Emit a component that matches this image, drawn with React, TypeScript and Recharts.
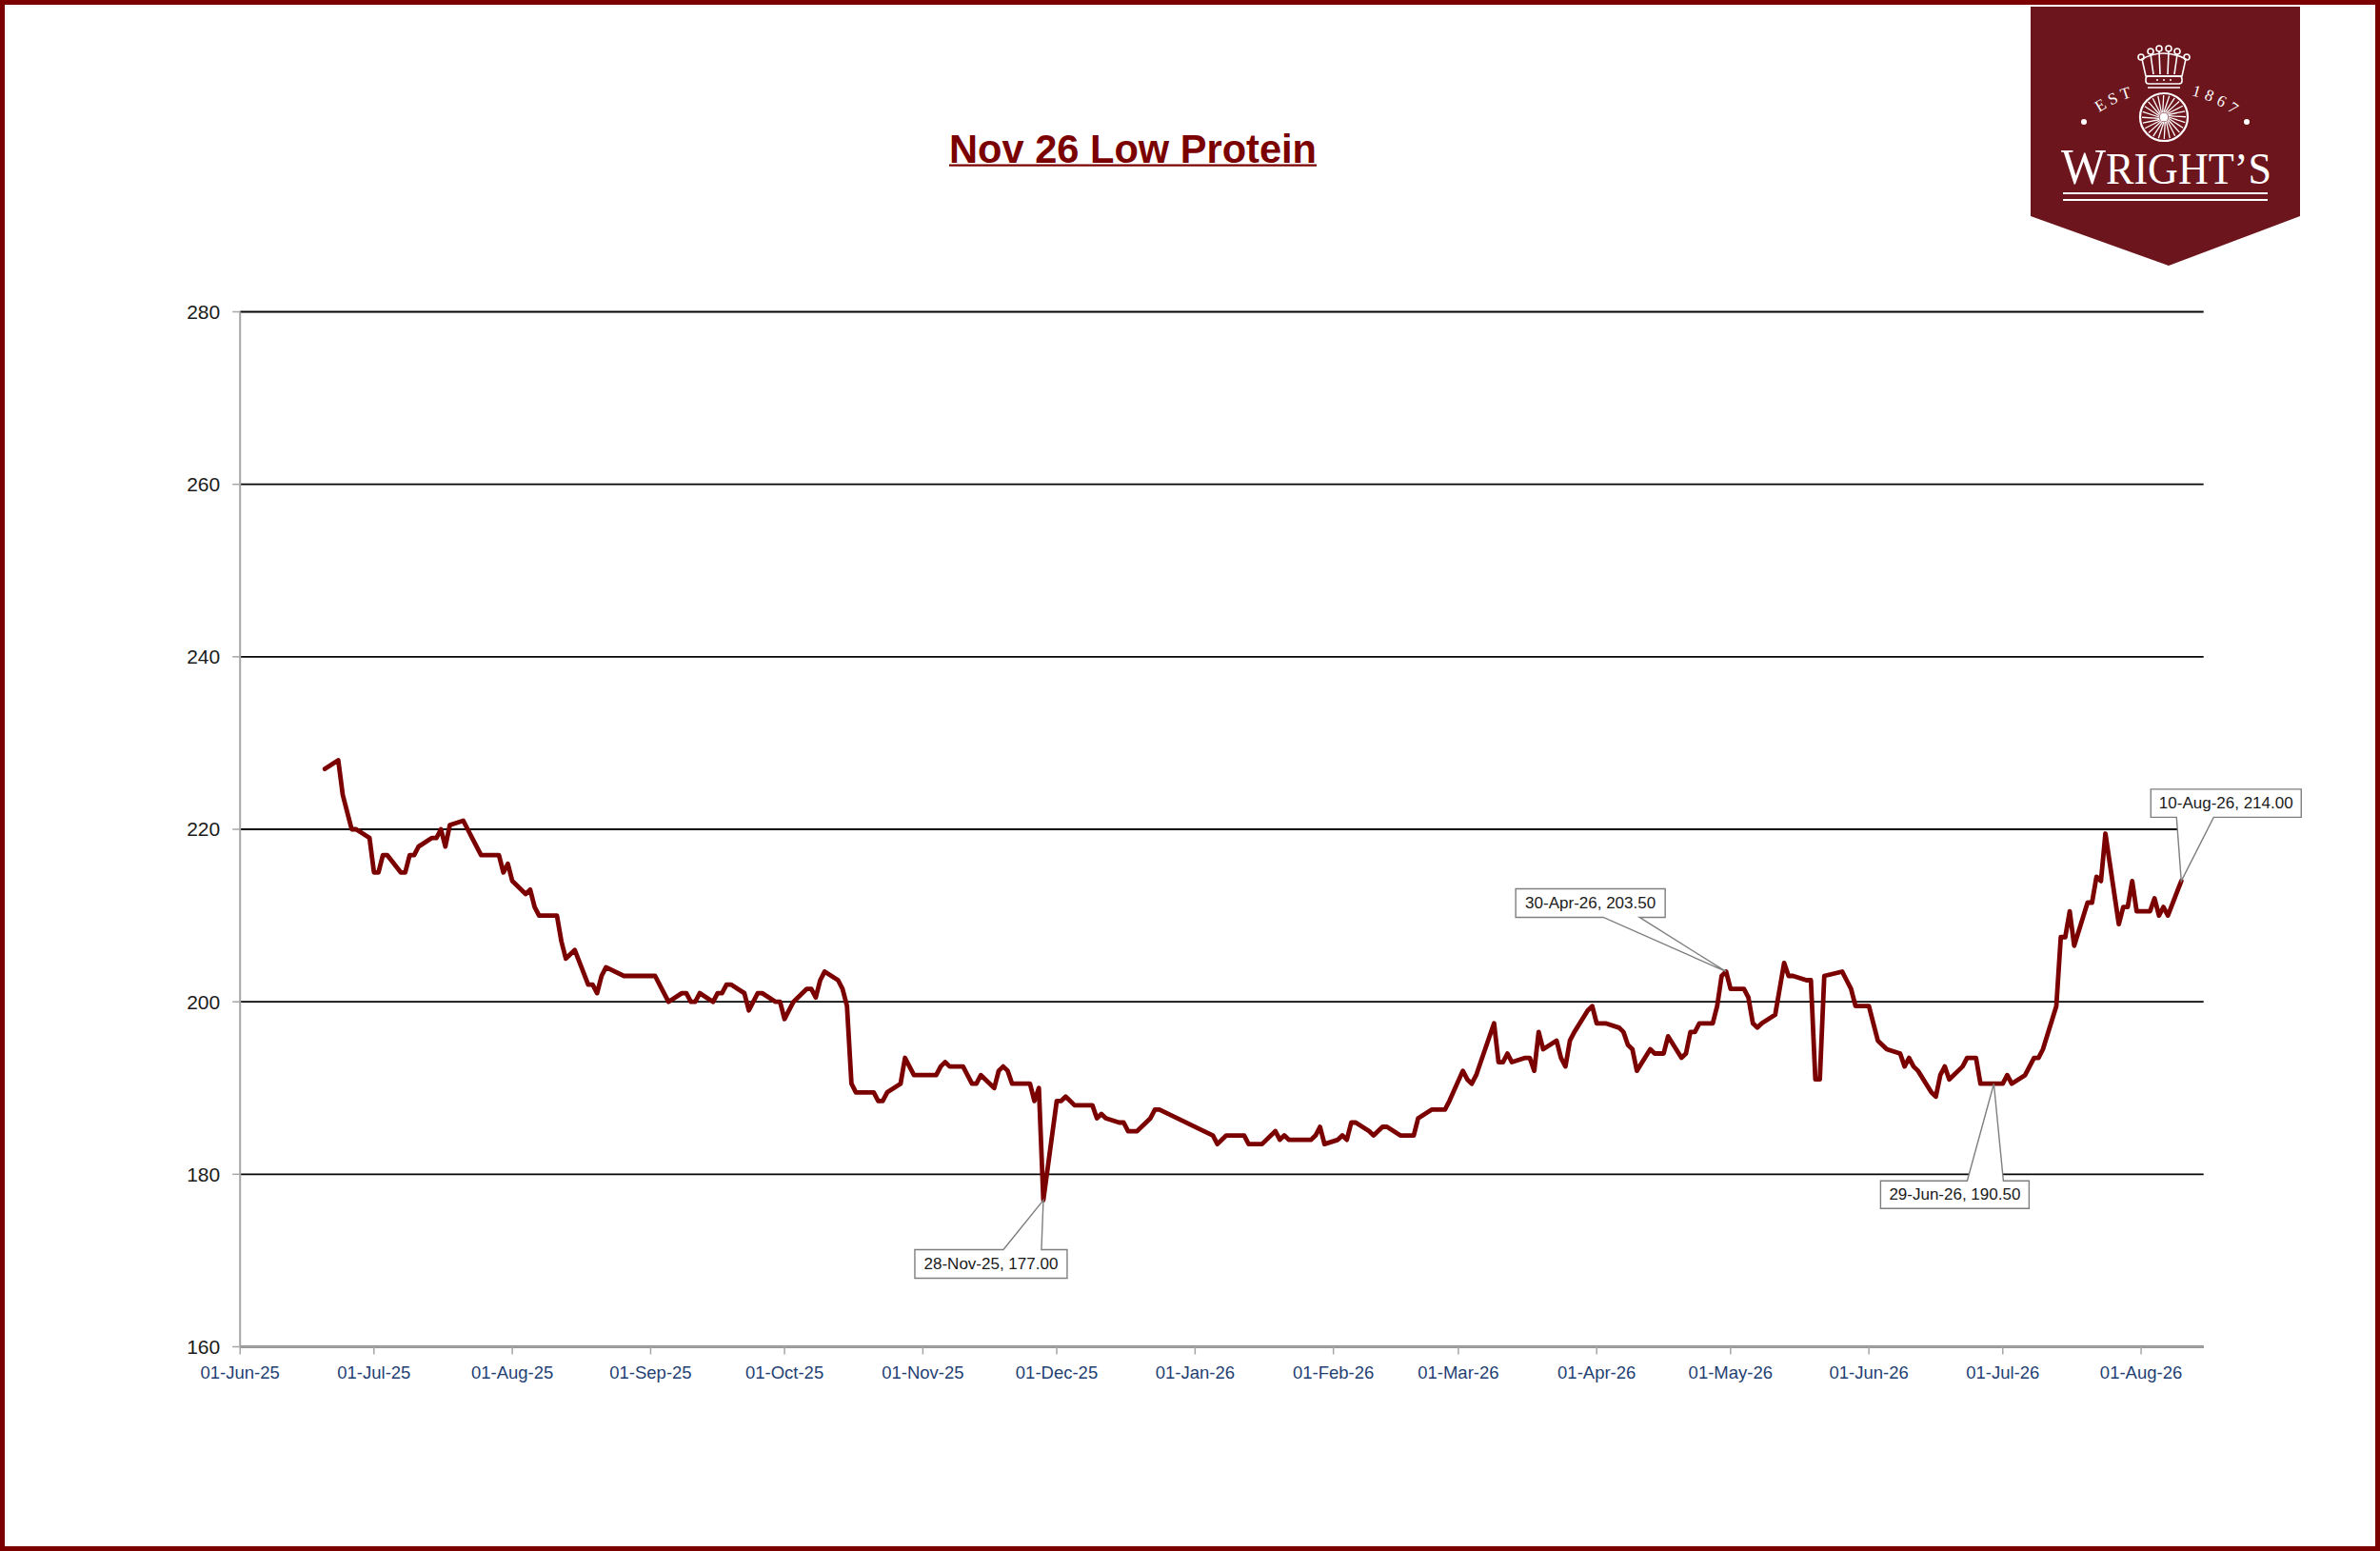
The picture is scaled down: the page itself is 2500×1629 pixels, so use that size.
import React from 'react';
import { LineChart, Line, XAxis, YAxis, CartesianGrid, ReferenceDot } from 'recharts';

const chartTitle = 'Nov 26 Low Protein';

const dates: string[] = [
  '2025-06-20', '2025-06-23', '2025-06-24', '2025-06-25', '2025-06-26', '2025-06-27', '2025-06-30',
  '2025-07-01', '2025-07-02', '2025-07-03', '2025-07-04', '2025-07-07', '2025-07-08', '2025-07-09', '2025-07-10', '2025-07-11',
  '2025-07-14', '2025-07-15', '2025-07-16', '2025-07-17', '2025-07-18', '2025-07-21', '2025-07-22', '2025-07-23', '2025-07-24',
  '2025-07-25', '2025-07-28', '2025-07-29', '2025-07-30', '2025-07-31',
  '2025-08-01', '2025-08-04', '2025-08-05', '2025-08-06', '2025-08-07', '2025-08-08', '2025-08-11', '2025-08-12', '2025-08-13',
  '2025-08-14', '2025-08-15', '2025-08-18', '2025-08-19', '2025-08-20', '2025-08-21', '2025-08-22', '2025-08-26', '2025-08-27',
  '2025-08-28', '2025-08-29',
  '2025-09-01', '2025-09-02', '2025-09-03', '2025-09-04', '2025-09-05', '2025-09-08', '2025-09-09', '2025-09-10', '2025-09-11',
  '2025-09-12', '2025-09-15', '2025-09-16', '2025-09-17', '2025-09-18', '2025-09-19', '2025-09-22', '2025-09-23', '2025-09-24',
  '2025-09-25', '2025-09-26', '2025-09-29', '2025-09-30',
  '2025-10-01', '2025-10-02', '2025-10-03', '2025-10-06', '2025-10-07', '2025-10-08', '2025-10-09', '2025-10-10', '2025-10-13',
  '2025-10-14', '2025-10-15', '2025-10-16', '2025-10-17', '2025-10-20', '2025-10-21', '2025-10-22', '2025-10-23', '2025-10-24',
  '2025-10-27', '2025-10-28', '2025-10-29', '2025-10-30', '2025-10-31',
  '2025-11-03', '2025-11-04', '2025-11-05', '2025-11-06', '2025-11-07', '2025-11-10', '2025-11-11', '2025-11-12', '2025-11-13',
  '2025-11-14', '2025-11-17', '2025-11-18', '2025-11-19', '2025-11-20', '2025-11-21', '2025-11-24', '2025-11-25', '2025-11-26',
  '2025-11-27', '2025-11-28',
  '2025-12-01', '2025-12-02', '2025-12-03', '2025-12-04', '2025-12-05', '2025-12-08', '2025-12-09', '2025-12-10', '2025-12-11',
  '2025-12-12', '2025-12-15', '2025-12-16', '2025-12-17', '2025-12-18', '2025-12-19', '2025-12-22', '2025-12-23', '2025-12-24',
  '2026-01-05', '2026-01-06', '2026-01-07', '2026-01-08', '2026-01-09', '2026-01-12', '2026-01-13', '2026-01-14', '2026-01-15',
  '2026-01-16', '2026-01-19', '2026-01-20', '2026-01-21', '2026-01-22', '2026-01-23', '2026-01-26', '2026-01-27', '2026-01-28',
  '2026-01-29', '2026-01-30',
  '2026-02-02', '2026-02-03', '2026-02-04', '2026-02-05', '2026-02-06', '2026-02-09', '2026-02-10', '2026-02-11', '2026-02-12',
  '2026-02-13', '2026-02-16', '2026-02-17', '2026-02-18', '2026-02-19', '2026-02-20', '2026-02-23', '2026-02-24', '2026-02-25',
  '2026-02-26', '2026-02-27',
  '2026-03-02', '2026-03-03', '2026-03-04', '2026-03-05', '2026-03-06', '2026-03-09', '2026-03-10', '2026-03-11', '2026-03-12',
  '2026-03-13', '2026-03-16', '2026-03-17', '2026-03-18', '2026-03-19', '2026-03-20', '2026-03-23', '2026-03-24', '2026-03-25',
  '2026-03-26', '2026-03-27', '2026-03-30', '2026-03-31',
  '2026-04-01', '2026-04-02', '2026-04-03', '2026-04-06', '2026-04-07', '2026-04-08', '2026-04-09', '2026-04-10', '2026-04-13',
  '2026-04-14', '2026-04-15', '2026-04-16', '2026-04-17', '2026-04-20', '2026-04-21', '2026-04-22', '2026-04-23', '2026-04-24',
  '2026-04-27', '2026-04-28', '2026-04-29', '2026-04-30',
  '2026-05-01', '2026-05-04', '2026-05-05', '2026-05-06', '2026-05-07', '2026-05-08', '2026-05-11', '2026-05-12', '2026-05-13',
  '2026-05-14', '2026-05-15', '2026-05-18', '2026-05-19', '2026-05-20', '2026-05-21', '2026-05-22', '2026-05-26', '2026-05-27',
  '2026-05-28', '2026-05-29',
  '2026-06-01', '2026-06-02', '2026-06-03', '2026-06-04', '2026-06-05', '2026-06-08', '2026-06-09', '2026-06-10', '2026-06-11',
  '2026-06-12', '2026-06-15', '2026-06-16', '2026-06-17', '2026-06-18', '2026-06-19', '2026-06-22', '2026-06-23', '2026-06-24',
  '2026-06-25', '2026-06-26', '2026-06-29', '2026-06-30',
  '2026-07-01', '2026-07-02', '2026-07-03', '2026-07-06', '2026-07-07', '2026-07-08', '2026-07-09', '2026-07-10', '2026-07-13',
  '2026-07-14', '2026-07-15', '2026-07-16', '2026-07-17', '2026-07-20', '2026-07-21', '2026-07-22', '2026-07-23', '2026-07-24',
  '2026-07-27', '2026-07-28', '2026-07-29', '2026-07-30', '2026-07-31',
  '2026-08-03', '2026-08-04', '2026-08-05', '2026-08-06', '2026-08-07', '2026-08-10',
];

const prices: number[] = [
  227, 228, 224, 222, 220, 220, 219,
  215, 215, 217, 217, 215, 215, 217, 217, 218,
  219, 219, 220, 218, 220.5, 221, 220, 219, 218,
  217, 217, 217, 215, 216,
  214, 212.5, 213, 211, 210, 210, 210, 207, 205,
  205.5, 206, 202, 202, 201, 203, 204, 203, 203,
  203, 203,
  203, 203, 202, 201, 200, 201, 201, 200, 200,
  201, 200, 201, 201, 202, 202, 201, 199, 200,
  201, 201, 200, 200,
  198, 199, 200, 201.5, 201.5, 200.5, 202.5, 203.5, 202.5,
  201.5, 199.5, 190.5, 189.5, 189.5, 189.5, 188.5, 188.5, 189.5,
  190.5, 193.5, 192.5, 191.5, 191.5,
  191.5, 191.5, 192.5, 193, 192.5, 192.5, 191.5, 190.5, 190.5,
  191.5, 190, 192, 192.5, 192, 190.5, 190.5, 190.5, 188.5,
  190, 177,
  188.5, 188.5, 189, 188.5, 188, 188, 188, 186.5, 187,
  186.5, 186, 186, 185, 185, 185, 186.5, 187.5, 187.5,
  184.5, 183.5, 184, 184.5, 184.5, 184.5, 183.5, 183.5, 183.5,
  183.5, 185, 184, 184.5, 184, 184, 184, 184, 184.5,
  185.5, 183.5,
  184, 184.5, 184, 186, 186, 185, 184.5, 185, 185.5,
  185.5, 184.5, 184.5, 184.5, 184.5, 186.5, 187.5, 187.5, 187.5,
  187.5, 188.5,
  192, 191, 190.5, 191.5, 193, 197.5, 193, 193, 194,
  193, 193.5, 193.5, 192, 196.5, 194.5, 195.5, 193.5, 192.5,
  195.5, 196.5, 199, 199.5,
  197.5, 197.5, 197.5, 197, 196.5, 195, 194.5, 192, 194.5,
  194, 194, 194, 196, 193.5, 194, 196.5, 196.5, 197.5,
  197.5, 199.5, 203, 203.5,
  201.5, 201.5, 200.5, 197.5, 197, 197.5, 198.5, 201.5, 204.5,
  203, 203, 202.5, 202.5, 191, 191, 203, 203.5, 202.5,
  201.5, 199.5,
  199.5, 197.5, 195.5, 195, 194.5, 194, 192.5, 193.5, 192.5,
  192, 189.5, 189, 191.5, 192.5, 191, 192.5, 193.5, 193.5,
  193.5, 190.5, 190.5, 190.5,
  190.5, 191.5, 190.5, 191.5, 192.5, 193.5, 193.5, 194.5, 199.5,
  207.5, 207.5, 210.5, 206.5, 211.5, 211.5, 214.5, 214, 219.5,
  209, 211, 211, 214, 210.5,
  210.5, 212, 210, 211, 210, 214,
];

const xTickDates: string[] = [
  '2025-06-01', '2025-07-01', '2025-08-01', '2025-09-01', '2025-10-01', '2025-11-01', '2025-12-01', '2026-01-01',
  '2026-02-01', '2026-03-01', '2026-04-01', '2026-05-01', '2026-06-01', '2026-07-01', '2026-08-01',
];
const xDomainDates: string[] = ['2025-06-01', '2026-08-15'];
const yTicks: number[] = [160, 180, 200, 220, 240, 260, 280];
const yDomain: number[] = [160, 280];

const calloutDates: string[] = ['2025-11-28', '2026-04-30', '2026-06-29', '2026-08-10'];

// callout box placement relative to the annotated point (style only)
const calloutLayout = [
  { bx: -135, by: 52, w: 160, h: 30, edge: 'top', w1: -42, w2: -2 },
  { bx: -221, by: -87, w: 157, h: 30, edge: 'bottom', w1: -129, w2: -91 },
  { bx: -119, by: 102, w: 156, h: 29, edge: 'top', w1: -28, w2: 10 },
  { bx: -32, by: -96.5, w: 158, h: 29.5, edge: 'bottom', w1: -5, w2: 34 },
];

const MONTHS = ['Jan', 'Feb', 'Mar', 'Apr', 'May', 'Jun', 'Jul', 'Aug', 'Sep', 'Oct', 'Nov', 'Dec'];
const toTs = (s: string) => {
  const [y, m, d] = s.split('-').map(Number);
  return Date.UTC(y, m - 1, d);
};
const fmtDate = (ts: number) => {
  const dt = new Date(ts);
  const dd = String(dt.getUTCDate()).padStart(2, '0');
  return `${dd}-${MONTHS[dt.getUTCMonth()]}-${String(dt.getUTCFullYear()).slice(2)}`;
};

const data = dates.map((d, i) => ({ t: toTs(d), v: prices[i] }));
const xTicks = xTickDates.map(toTs);
const xDomain = xDomainDates.map(toTs);

const RED = '#7b0000';
const FONT = '"Liberation Sans", Arial, sans-serif';

const makeCallout = (label: string, lay: any) => (props: any) => {
  const { cx, cy } = props;
  if (typeof cx !== 'number' || typeof cy !== 'number') return <g />;
  const L = cx + lay.bx;
  const T = cy + lay.by;
  const R = L + lay.w;
  const B = T + lay.h;
  const a = cx + lay.w1;
  const b = cx + lay.w2;
  let d: string;
  if (lay.edge === 'top') {
    d = `M${a},${T} L${cx},${cy} L${b},${T} L${R},${T} L${R},${B} L${L},${B} L${L},${T} Z`;
  } else {
    d = `M${L},${T} L${R},${T} L${R},${B} L${b},${B} L${cx},${cy} L${a},${B} L${L},${B} Z`;
  }
  return (
    <g>
      <path d={d} fill="#ffffff" stroke="#7f7f7f" strokeWidth={1.4} strokeLinejoin="miter" />
      <text
        x={L + lay.w / 2}
        y={T + lay.h / 2}
        textAnchor="middle"
        dominantBaseline="central"
        fontFamily={FONT}
        fontSize={17}
        fill="#1a1a1a"
      >
        {label}
      </text>
    </g>
  );
};

const spokes = Array.from({ length: 24 }, (_, i) => (i * Math.PI * 2) / 24);

const Logo = () => {
  const cx = 2273;
  const cy = 123;
  // arc for the EST / 1867 lettering
  const acx = 2274;
  const acy = 219.8;
  const ar = 122.8;
  const a0 = (140 * Math.PI) / 180;
  const sx = acx + ar * Math.cos(a0);
  const sy = acy - ar * Math.sin(a0);
  const ex = acx - ar * Math.cos(a0);
  return (
    <g>
      <polygon points="2133,7 2416,7 2416,227 2278,279 2133,227" fill="#6d151c" />
      {/* crown */}
      <g fill="none" stroke="#ffffff" strokeWidth={1.6}>
        <path d="M2250,62 Q2273,50 2296,62 L2292,80 L2254,80 Z" />
        <rect x={2254} y={80} width={38} height={8} rx={3} />
        <path d="M2256,92 L2290,92" />
        <circle cx={2249} cy={60} r={3} />
        <circle cx={2259} cy={54} r={3} />
        <circle cx={2268} cy={51} r={3} />
        <circle cx={2278} cy={51} r={3} />
        <circle cx={2287} cy={54} r={3} />
        <circle cx={2297} cy={60} r={3} />
        <path d="M2259,57 L2262,78 M2268,54 L2269,78 M2278,54 L2277,78 M2287,57 L2284,78" />
      </g>
      <circle cx={2266} cy={84} r={1} fill="#fff" />
      <circle cx={2273} cy={84} r={1} fill="#fff" />
      <circle cx={2280} cy={84} r={1} fill="#fff" />
      {/* wheel */}
      <circle cx={cx} cy={cy} r={25} fill="none" stroke="#ffffff" strokeWidth={2.2} />
      <g stroke="#ffffff" strokeWidth={1.3}>
        {spokes.map((ang, i) => (
          <line
            key={i}
            x1={cx + Math.cos(ang) * 5}
            y1={cy + Math.sin(ang) * 5}
            x2={cx + Math.cos(ang + 0.25) * 23}
            y2={cy + Math.sin(ang + 0.25) * 23}
          />
        ))}
      </g>
      <circle cx={cx} cy={cy} r={4.5} fill="#ffffff" />
      {/* est 1867 */}
      <defs>
        <path id="estArc" d={`M${sx},${sy} A${ar},${ar} 0 0,1 ${ex},${sy}`} />
      </defs>
      <text fontFamily='"Liberation Serif", serif' fontSize={17} fill="#ffffff" letterSpacing={4} textAnchor="middle">
        <textPath href="#estArc" startOffset="55">EST</textPath>
      </text>
      <text fontFamily='"Liberation Serif", serif' fontSize={17} fill="#ffffff" letterSpacing={5} textAnchor="middle">
        <textPath href="#estArc" startOffset="162">1867</textPath>
      </text>
      <circle cx={2189} cy={128} r={3} fill="#ffffff" />
      <circle cx={2360} cy={128} r={3} fill="#ffffff" />
      <text
        x={2165}
        y={193}
        fontFamily='"Liberation Serif", "DejaVu Serif", serif'
        fill="#ffffff"
        textLength={221}
        lengthAdjust="spacingAndGlyphs"
      >
        <tspan fontSize={53}>W</tspan>
        <tspan fontSize={47}>RIGHT’S</tspan>
      </text>
      <line x1={2167} y1={203} x2={2382} y2={203} stroke="#ffffff" strokeWidth={2} />
      <line x1={2167} y1={210} x2={2382} y2={210} stroke="#ffffff" strokeWidth={2} />
    </g>
  );
};

export default function App() {
  return (
    <div style={{ position: 'absolute', left: 0, top: 0, width: 2500, height: 1629, background: '#ffffff', overflow: 'hidden' }}>
      <div style={{ position: 'absolute', left: 0, top: 0 }}>
        <LineChart
          width={2500}
          height={1629}
          data={data}
          margin={{ top: 327.5, right: 185.3, bottom: 154.5, left: 0 }}
        >
          <CartesianGrid vertical={false} stroke="#050505" strokeWidth={1.9} />
          <XAxis
            dataKey="t"
            type="number"
            domain={xDomain}
            ticks={xTicks}
            interval={0}
            allowDataOverflow
            tickFormatter={fmtDate}
            height={60}
            tickSize={8}
            tickMargin={12}
            axisLine={{ stroke: '#a6a6a6', strokeWidth: 2.2 }}
            tickLine={{ stroke: '#a6a6a6', strokeWidth: 1.5 }}
            tick={{ fill: '#1f3f73', fontSize: 18.5, fontFamily: FONT }}
          />
          <YAxis
            type="number"
            domain={yDomain}
            ticks={yTicks}
            interval={0}
            width={252.2}
            tickSize={8}
            tickMargin={13}
            axisLine={{ stroke: '#a6a6a6', strokeWidth: 2 }}
            tickLine={{ stroke: '#a6a6a6', strokeWidth: 1.5 }}
            tick={{ fill: '#1a1a1a', fontSize: 21, fontFamily: FONT }}
          />
          <Line
            type="linear"
            dataKey="v"
            stroke={RED}
            strokeWidth={4.8}
            strokeLinejoin="round"
            strokeLinecap="round"
            dot={false}
            activeDot={false}
            isAnimationActive={false}
          />
          {calloutDates.map((cd, i) => {
            const t = toTs(cd);
            const pt = data.find((p) => p.t === t);
            const v = pt ? pt.v : 0;
            const label = `${fmtDate(t)}, ${v.toFixed(2)}`;
            return (
              <ReferenceDot
                key={cd}
                x={t}
                y={v}
                r={0}
                ifOverflow="visible"
                shape={makeCallout(label, calloutLayout[i])}
              />
            );
          })}
        </LineChart>
      </div>
      <svg
        width={2500}
        height={1629}
        style={{ position: 'absolute', left: 0, top: 0, pointerEvents: 'none' }}
      >
        <text
          x={1190}
          y={171}
          textAnchor="middle"
          fontFamily={FONT}
          fontWeight="bold"
          fontSize={42}
          fill={RED}
          textLength={386}
          lengthAdjust="spacingAndGlyphs"
        >
          {chartTitle}
        </text>
        <rect x={997} y={172.5} width={386} height={2.2} fill={RED} />
        <Logo />
        <rect x={2.5} y={2.5} width={2495} height={1624} fill="none" stroke={RED} strokeWidth={5} />
      </svg>
    </div>
  );
}
